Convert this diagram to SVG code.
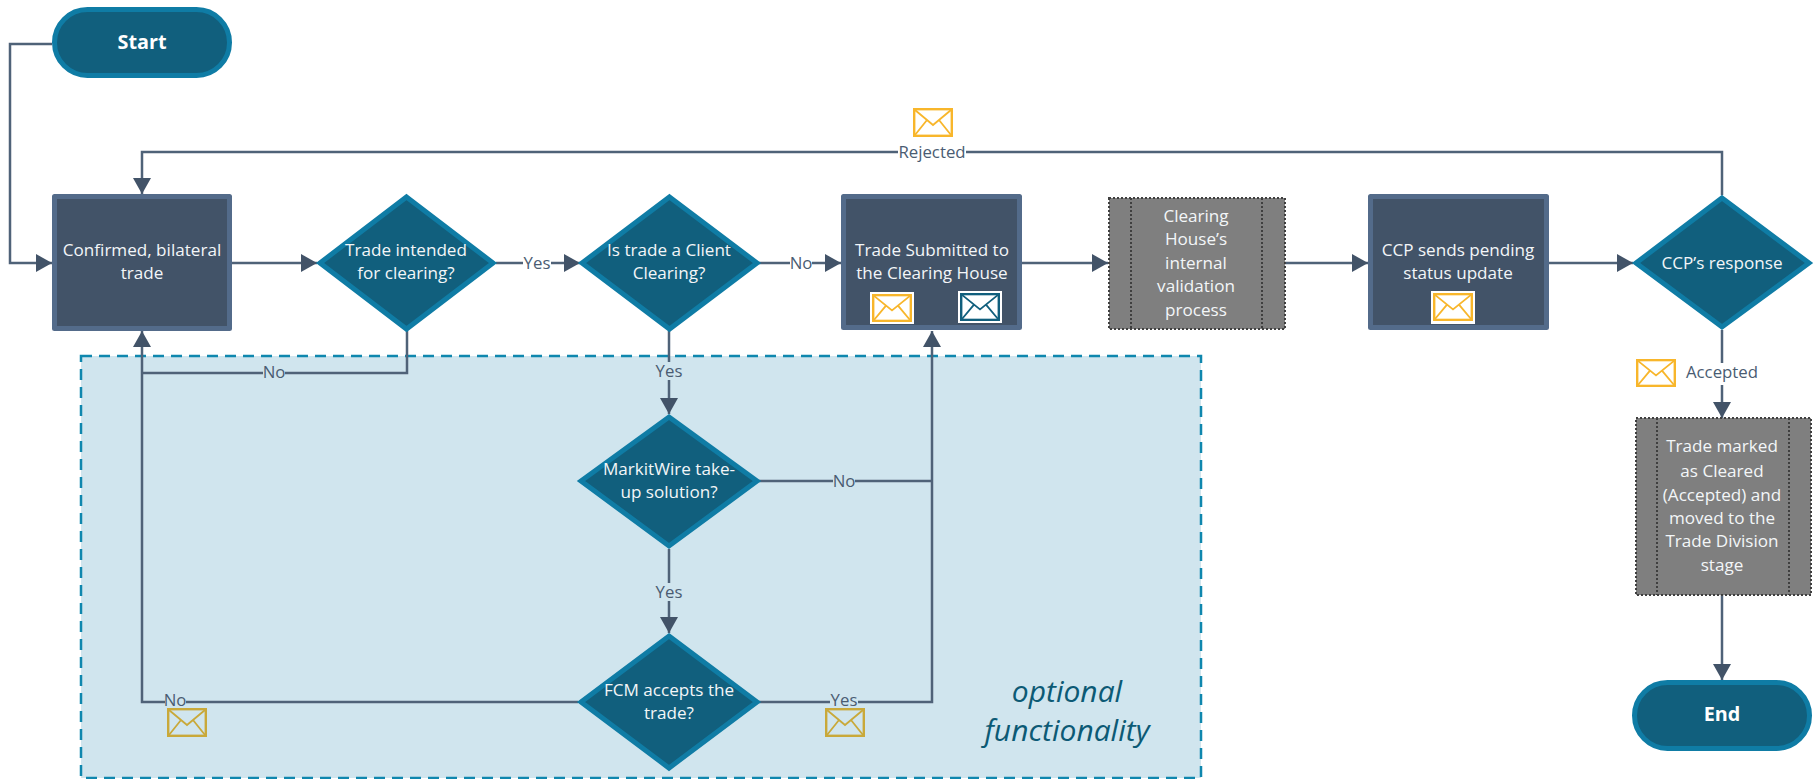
<svg xmlns="http://www.w3.org/2000/svg" xmlns:xlink="http://www.w3.org/1999/xlink" width="1816" height="779" viewBox="0 0 1816 779">
<style>
text{font-family:"Open Sans","Noto Sans","Liberation Sans",sans-serif;text-anchor:middle}
.w{fill:#f3f6f8;font-size:17.1px}
.b{fill:#fff;font-size:19.8px;font-weight:700}
.l{fill:#4a5c72;font-size:16.8px}
.term{fill:#115f7d;stroke:#0f7ca5;stroke-width:5}
.dec{fill:#115f7d;stroke:#0f7ca5;stroke-width:5;stroke-linejoin:miter}
.pro{fill:#425368;stroke:#536b8a;stroke-width:5;stroke-linejoin:round}
.sub{fill:#7f7f7f;stroke:#3f3f3f;stroke-width:2;stroke-dasharray:2 2}
.con{fill:none;stroke:#4f6278;stroke-width:2.5}
.y{color:#f8b62b}.n{color:#115f7d}.g{color:#c9a93a}
</style>
<defs>
<marker id="a" markerUnits="userSpaceOnUse" markerWidth="17" markerHeight="18" refX="16" refY="9" orient="auto"><path d="M0 0L16 9L0 18Z" fill="#425368"/></marker>
<symbol id="env" viewBox="0 0 40 29" preserveAspectRatio="none"><g fill="none" stroke="currentColor" stroke-width="1.8"><rect x="1.2" y="1.2" width="37.600" height="26.600" stroke-width="2.400"/><path d="M2 2L20 17L38 2M2 27L14 12M38 27L26 12"/></g></symbol>
</defs>
<g id="optional-region"><rect x="81" y="356" width="1120" height="422" fill="#d0e5ee" stroke="#0f87ae" stroke-width="2.500" stroke-dasharray="11 7"/><text x="1067" y="702" font-size="30" font-style="italic" fill="#0c5a75">optional</text><text x="1067" y="741" font-size="30" font-style="italic" fill="#0c5a75">functionality</text></g>
<g id="connectors">
<path class="con" d="M52 44H10V263H52" marker-end="url(#a)"/>
<path class="con" d="M1722 195V152H142V194" marker-end="url(#a)"/>
<path class="con" d="M232 263H317" marker-end="url(#a)"/>
<path class="con" d="M496 263H580" marker-end="url(#a)"/>
<path class="con" d="M759 263H841" marker-end="url(#a)"/>
<path class="con" d="M1022 263H1108" marker-end="url(#a)"/>
<path class="con" d="M1285 263H1368" marker-end="url(#a)"/>
<path class="con" d="M1549 263H1633" marker-end="url(#a)"/>
<path class="con" d="M1722 330V418" marker-end="url(#a)"/>
<path class="con" d="M1722 595V680" marker-end="url(#a)"/>
<path class="con" d="M407 331V373H142"/>
<path class="con" d="M578 702H142V331" marker-end="url(#a)"/>
<path class="con" d="M669 331V414" marker-end="url(#a)"/>
<path class="con" d="M669 549V633" marker-end="url(#a)"/>
<path class="con" d="M759 481H932"/>
<path class="con" d="M759 702H932V331" marker-end="url(#a)"/>
</g>
<g id="labels">
<rect x="523" y="254" width="28" height="18" fill="#fff"/><text class="l" x="537" y="269">Yes</text>
<rect x="790" y="254" width="22" height="18" fill="#fff"/><text class="l" x="801" y="269">No</text>
<rect x="898" y="143" width="68" height="18" fill="#fff"/><text class="l" x="932" y="158">Rejected</text>
<rect x="263" y="364" width="22" height="18" fill="#d0e5ee"/><text class="l" x="274" y="378">No</text>
<rect x="655" y="362" width="28" height="18" fill="#d0e5ee"/><text class="l" x="669" y="377">Yes</text>
<rect x="833" y="472" width="22" height="18" fill="#d0e5ee"/><text class="l" x="844" y="487">No</text>
<rect x="655" y="583" width="28" height="18" fill="#d0e5ee"/><text class="l" x="669" y="598">Yes</text>
<rect x="165" y="693" width="21" height="16" fill="#d0e5ee"/><text class="l" x="175" y="706">No</text>
<rect x="830" y="693" width="28" height="16" fill="#d0e5ee"/><text class="l" x="844" y="706">Yes</text>
<rect x="1684" y="363" width="76" height="22" fill="#fff"/><text class="l" x="1722" y="378">Accepted</text>
</g>
<g id="start"><rect class="term" x="54.500" y="9.500" width="175" height="66" rx="33"/><text class="b" x="142" y="49">Start</text></g>
<g id="confirmed"><rect class="pro" x="54.500" y="196.500" width="175" height="132"/><text class="w" x="142" y="256">Confirmed, bilateral</text><text class="w" x="142" y="279">trade</text></g>
<g id="intended"><path class="dec" d="M406.500 197L493 263L406.500 329L320 263Z"/><text class="w" x="406" y="256">Trade intended</text><text class="w" x="406" y="279">for clearing?</text></g>
<g id="client"><path class="dec" d="M669.500 197L757 263L669.500 329L582 263Z"/><text class="w" x="669" y="256">Is trade a Client</text><text class="w" x="669" y="279">Clearing?</text></g>
<g id="submitted"><rect class="pro" x="843.500" y="196.500" width="176" height="131"/><text class="w" x="932" y="256">Trade Submitted to</text><text class="w" x="932" y="279">the Clearing House</text>
<rect x="870" y="292" width="44" height="32" fill="#fff"/><use href="#env" class="y" x="872" y="294" width="40" height="28"/>
<rect x="958" y="291" width="44" height="32" fill="#fff"/><use href="#env" class="n" x="960" y="293" width="40" height="28"/></g>
<g id="validation"><rect class="sub" x="1109" y="198" width="176" height="131"/><path class="sub" d="M1131 198V329M1262 198V329"/><text class="w" x="1196" y="222">Clearing</text><text class="w" x="1196" y="245">House’s</text><text class="w" x="1196" y="269">internal</text><text class="w" x="1196" y="292">validation</text><text class="w" x="1196" y="316">process</text></g>
<g id="pending"><rect class="pro" x="1370.500" y="196.500" width="176" height="131"/><text class="w" x="1458" y="256">CCP sends pending</text><text class="w" x="1458" y="279">status update</text><rect x="1431" y="291" width="44" height="33" fill="#fff"/><use href="#env" class="y" x="1433" y="293" width="40" height="28"/></g>
<g id="response"><path class="dec" d="M1722 198L1809 263L1722 327L1636 263Z"/><text class="w" x="1722" y="269">CCP’s response</text></g>
<g id="cleared"><rect class="sub" x="1636" y="418" width="175" height="177"/><path class="sub" d="M1657 418V595M1789 418V595"/><text class="w" x="1722" y="452">Trade marked</text><text class="w" x="1722" y="477">as Cleared</text><text class="w" x="1722" y="501">(Accepted) and</text><text class="w" x="1722" y="524">moved to the</text><text class="w" x="1722" y="547">Trade Division</text><text class="w" x="1722" y="571">stage</text></g>
<g id="end"><rect class="term" x="1634.500" y="682.500" width="175" height="66" rx="33"/><text class="b" x="1722" y="721">End</text></g>
<g id="markitwire"><path class="dec" d="M669 417L757 481L669 546L581 481Z"/><text class="w" x="669" y="475">MarkitWire take-</text><text class="w" x="669" y="498">up solution?</text></g>
<g id="fcm"><path class="dec" d="M669 636L757 702L669 768L581 702Z"/><text class="w" x="669" y="696">FCM accepts the</text><text class="w" x="669" y="719">trade?</text></g>
<g id="envelopes"><use href="#env" class="y" x="913" y="108" width="40" height="29"/><use href="#env" class="y" x="1636" y="359" width="40" height="28"/><use href="#env" class="g" x="167" y="708" width="40" height="29"/><use href="#env" class="g" x="825" y="708" width="40" height="29"/></g>
</svg>
